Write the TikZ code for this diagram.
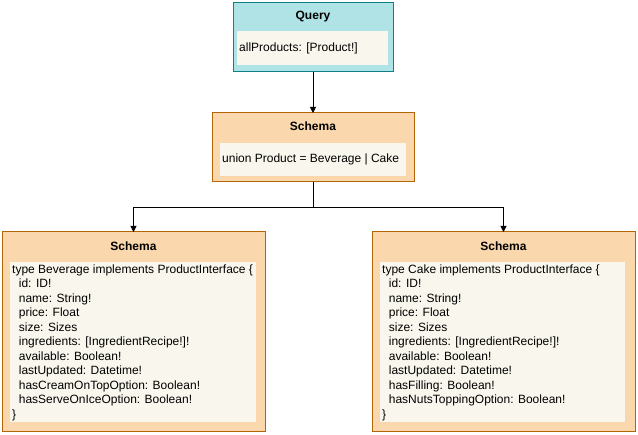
\documentclass[tikz,border=0pt]{standalone}
\usepackage{fontspec}
\setmainfont{Liberation Sans}
\usetikzlibrary{arrows.meta}
\definecolor{qfill}{HTML}{B0E3E6}
\definecolor{qdraw}{HTML}{0E8088}
\definecolor{sfill}{HTML}{FAD7AC}
\definecolor{sdraw}{HTML}{B46504}
\definecolor{ifill}{HTML}{F9F7ED}
\newcommand{\ind}{\hspace*{6.7pt}}
\begin{document}
\begin{tikzpicture}[x=1pt,y=-1pt,
  box/.style={rectangle,line width=1pt,inner sep=0pt,outer sep=0pt,anchor=north west},
  qbox/.style={box,draw=qdraw,fill=qfill},
  sbox/.style={box,draw=sdraw,fill=sfill},
  ibox/.style={rectangle,fill=ifill,inner sep=0pt,anchor=north west},
  ttl/.style={font=\fontsize{12}{14}\selectfont\bfseries,inner sep=0pt},
  txt/.style={font=\fontsize{12}{14.5}\selectfont,align=left,inner sep=0pt,anchor=north west},
  arr/.style={-{Triangle[width=6pt,length=6pt]},line width=0.8pt,black}]
\useasboundingbox (0,0) rectangle (638,435);
% Query
\node[qbox,minimum width=160pt,minimum height=69pt] (q) at (233,3) {};
\node[ttl] (qt) at (313,16.5) {Query};
\node[ibox,minimum width=151pt,minimum height=34pt] (qi) at (237,31) {};
\node[txt,anchor=west] (qx) at (239,48) {allProducts: [Product!]};
% Middle schema
\node[sbox,minimum width=202pt,minimum height=69pt] (s) at (212,113) {};
\node[ttl] (st) at (313,126.5) {Schema};
\node[ibox,minimum width=186pt,minimum height=33pt] (si) at (220,143) {};
\node[txt,anchor=west] (sx) at (222,159.5) {union Product = Beverage | Cake};
% Left schema
\node[sbox,minimum width=263pt,minimum height=200pt] (b) at (2,232) {};
\node[ttl] (bt) at (133.5,246.5) {Schema};
\node[ibox,minimum width=246pt,minimum height=160pt] (bi) at (10,262) {};
\node[txt] (bx) at (12,264.5) {type Beverage implements ProductInterface \{\\
\ind id: ID!\\
\ind name: String!\\
\ind price: Float\\
\ind size: Sizes\\
\ind ingredients: [IngredientRecipe!]!\\
\ind available: Boolean!\\
\ind lastUpdated: Datetime!\\
\ind hasCreamOnTopOption: Boolean!\\
\ind hasServeOnIceOption: Boolean!\\
\}};
% Right schema
\node[sbox,minimum width=263pt,minimum height=200pt] (c) at (372,232) {};
\node[ttl] (ct) at (503.5,246.5) {Schema};
\node[ibox,minimum width=245pt,minimum height=160pt] (ci) at (380,262) {};
\node[txt] (cx) at (382,264.5) {type Cake implements ProductInterface \{\\
\ind id: ID!\\
\ind name: String!\\
\ind price: Float\\
\ind size: Sizes\\
\ind ingredients: [IngredientRecipe!]!\\
\ind available: Boolean!\\
\ind lastUpdated: Datetime!\\
\ind hasFilling: Boolean!\\
\ind hasNutsToppingOption: Boolean!\\
\}};
% connectors
\draw[arr] (q.south) -- (s.north);
\coordinate (j) at (313,207);
\draw[arr] (s.south) -- (j) -| (b.north);
\draw[arr] (j) -| (c.north);
\end{tikzpicture}
\end{document}
